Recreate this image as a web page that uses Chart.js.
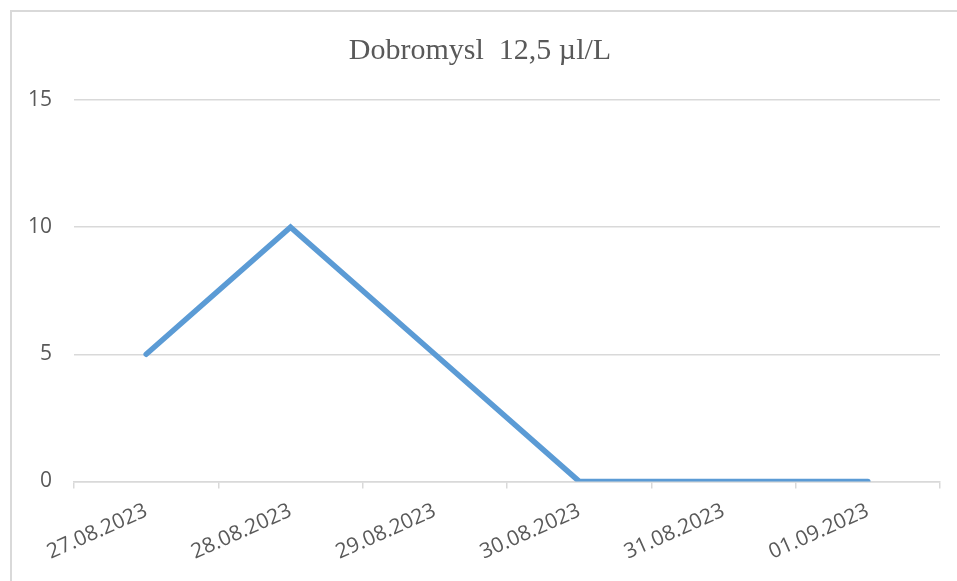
<!DOCTYPE html>
<html>
<head>
<meta charset="utf-8">
<script src="https://cdn.jsdelivr.net/npm/chart.js@4"></script>
<style>
  html, body { margin: 0; padding: 0; background: #ffffff; overflow: hidden; }
  #wrap { position: relative; width: 957px; height: 581px; }
  #frame { position: absolute; left: 10px; top: 10px; width: 980px; height: 620px; border: 2px solid #d9d9d9; box-sizing: border-box; }
  #c { position: absolute; left: 0; top: 0; }
</style>
</head>
<body>
<div id="wrap">
  <div id="frame"></div>
  <canvas id="c" width="957" height="581"></canvas>
</div>
<script>
const chartTitle = 'Dobromysl  12,5 µl/L';
const categories = ['27.08.2023', '28.08.2023', '29.08.2023', '30.08.2023', '31.08.2023', '01.09.2023'];
const seriesValues = [5, 10, 5, 0, 0, 0];
const yTicks = [0, 5, 10, 15];

const shiftTitle = {
  id: 'shiftTitle',
  afterLayout(chart) {
    if (chart.titleBlock) chart.titleBlock.left += 14;
  }
};

new Chart(document.getElementById('c'), {
  type: 'line',
  data: {
    labels: categories,
    datasets: [{
      data: seriesValues,
      borderColor: '#5B9BD5',
      borderWidth: 5.5,
      borderCapStyle: 'round',
      borderJoinStyle: 'miter',
      pointRadius: 0,
      pointHoverRadius: 0,
      tension: 0,
      fill: false
    }]
  },
  plugins: [shiftTitle],
  options: {
    responsive: false,
    animation: false,
    events: [],
    layout: { padding: { left: 6, right: 17, top: 0, bottom: 6 } },
    plugins: {
      legend: { display: false },
      tooltip: { enabled: false },
      title: {
        display: true,
        text: chartTitle,
        color: '#595959',
        font: { family: '"Liberation Serif", "Times New Roman", serif', size: 30, weight: 'normal' },
        padding: { top: 33, bottom: 31 }
      }
    },
    scales: {
      x: {
        type: 'category',
        offset: true,
        grid: {
          offset: true,
          drawOnChartArea: false,
          drawTicks: true,
          tickLength: 7,
          color: '#d9d9d9',
          lineWidth: 1.5
        },
        border: { display: true, color: '#d9d9d9', width: 1.5 },
        ticks: {
          color: '#595959',
          font: { family: '"Open Sans", sans-serif', size: 21 },
          minRotation: 24,
          maxRotation: 24,
          padding: 10,
          autoSkip: false
        }
      },
      y: {
        min: 0,
        max: 15,
        afterBuildTicks: (axis) => { axis.ticks = yTicks.map(v => ({ value: v })); },
        grid: {
          drawTicks: false,
          color: '#d9d9d9',
          lineWidth: 1.5
        },
        border: { display: false },
        ticks: {
          color: '#595959',
          font: { family: '"Open Sans", sans-serif', size: 21 },
          padding: 22
        }
      }
    }
  }
});
</script>
</body>
</html>
